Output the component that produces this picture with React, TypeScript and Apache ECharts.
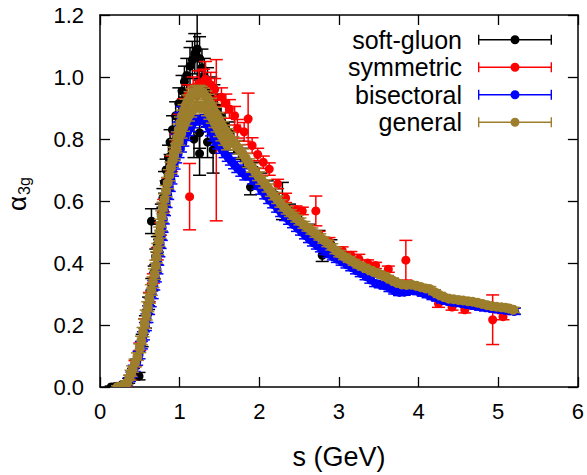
import React, { useEffect, useRef } from 'react';
import * as echarts from 'echarts';

// [s (GeV), alpha_3g, error]
type Pt = [number, number, number];

const seriesNames = ['soft-gluon', 'symmetric', 'bisectoral', 'general'];
const seriesColors = ['#000000', '#ff0000', '#0000ff', '#9c7e2c'];

const softGluon: Pt[] = [
  [0.14, 0.0, 0.003], [0.17, 0.0, 0.003], [0.2, 0.002, 0.004], [0.28, 0.008, 0.006], [0.36, 0.02, 0.008],
  [0.42, 0.05, 0.01], [0.49, 0.035, 0.012], [0.53, 0.15, 0.02], [0.57, 0.21, 0.02], [0.61, 0.27, 0.02],
  [0.65, 0.33, 0.02], [0.68, 0.37, 0.02], [0.7, 0.42, 0.025], [0.72, 0.46, 0.025], [0.646, 0.535, 0.04],
  [0.75, 0.5, 0.025], [0.77, 0.56, 0.03], [0.79, 0.61, 0.03], [0.81, 0.66, 0.035], [0.83, 0.7, 0.035],
  [0.86, 0.74, 0.04], [0.88, 0.79, 0.04], [0.91, 0.83, 0.045], [0.95, 0.875, 0.045], [0.99, 0.915, 0.05],
  [1.03, 0.955, 0.05], [1.06, 0.985, 0.05], [1.09, 1.005, 0.055], [1.13, 1.035, 0.06], [1.16, 1.055, 0.06],
  [1.19, 1.075, 0.065], [1.22, 1.09, 0.17], [1.25, 1.06, 0.07], [1.28, 1.03, 0.06], [1.31, 1.0, 0.06],
  [1.35, 0.975, 0.055], [1.39, 0.95, 0.05], [1.43, 0.925, 0.05], [1.47, 0.9, 0.045], [1.52, 0.87, 0.04],
  [1.57, 0.845, 0.04], [1.62, 0.82, 0.035], [1.68, 0.79, 0.035], [1.74, 0.765, 0.03], [1.8, 0.74, 0.03],
  [1.89, 0.645, 0.025], [1.95, 0.7, 0.025], [2.02, 0.67, 0.02], [2.1, 0.645, 0.02], [2.2, 0.62, 0.02],
  [2.29, 0.6, 0.06], [2.38, 0.57, 0.02], [2.5, 0.54, 0.02], [2.62, 0.51, 0.015], [2.75, 0.49, 0.015],
  [2.79, 0.425, 0.02], [2.9, 0.46, 0.015], [3.05, 0.42, 0.015], [3.2, 0.4, 0.012], [3.4, 0.37, 0.012],
  [3.6, 0.345, 0.01], [3.8, 0.322, 0.01], [3.95, 0.315, 0.01], [4.1, 0.305, 0.01], [4.3, 0.287, 0.01],
  [4.5, 0.275, 0.01], [4.7, 0.268, 0.01], [4.9, 0.258, 0.01], [5.1, 0.25, 0.01], [5.2, 0.245, 0.01],
  [1.18, 0.8, 0.06], [1.25, 0.753, 0.07], [1.25, 0.82, 0.05], [1.42, 0.765, 0.075], [1.35, 0.79, 0.05],
];

const symmetric: Pt[] = [
  [0.27, 0.0, 0.004], [0.32, 0.006, 0.005], [0.38, 0.03, 0.008], [0.44, 0.075, 0.01], [0.5, 0.13, 0.012],
  [0.56, 0.205, 0.015], [0.62, 0.29, 0.015], [0.67, 0.35, 0.015], [0.72, 0.43, 0.02], [0.76, 0.51, 0.02],
  [0.8, 0.585, 0.02], [0.85, 0.655, 0.02], [0.9, 0.72, 0.025], [0.95, 0.79, 0.025], [1.0, 0.85, 0.03],
  [1.05, 0.9, 0.03], [1.125, 0.614, 0.107], [1.1, 0.94, 0.035], [1.17, 0.965, 0.035], [1.24, 0.98, 0.04],
  [1.3, 0.985, 0.04], [1.325, 0.993, 0.057], [1.39, 0.975, 0.04], [1.44, 0.96, 0.035], [1.46, 0.796, 0.26],
  [1.525, 0.935, 0.03], [1.58, 0.915, 0.03], [1.625, 0.897, 0.03], [1.69, 0.875, 0.03], [1.725, 0.833, 0.03],
  [1.81, 0.823, 0.03], [1.86, 0.865, 0.083], [1.91, 0.779, 0.025], [1.98, 0.75, 0.02], [2.05, 0.725, 0.02],
  [2.125, 0.703, 0.02], [2.23, 0.655, 0.015], [2.33, 0.61, 0.015], [2.46, 0.572, 0.012], [2.54, 0.568, 0.012],
  [2.71, 0.568, 0.048], [2.75, 0.49, 0.012], [2.875, 0.47, 0.012], [3.04, 0.44, 0.012], [3.15, 0.425, 0.012],
  [3.25, 0.413, 0.015], [3.36, 0.4, 0.01], [3.46, 0.392, 0.01], [3.62, 0.38, 0.01], [3.84, 0.409, 0.064],
  [4.25, 0.269, 0.012], [4.42, 0.258, 0.01], [4.58, 0.249, 0.01], [4.93, 0.217, 0.08], [5.06, 0.227, 0.01],
];

const bisectoralRise: Pt[] = [
  [0.24, 0.0, 0.004], [0.29, 0.004, 0.004], [0.33, 0.01, 0.005], [0.37, 0.024, 0.006], [0.4, 0.04, 0.008],
  [0.43, 0.06, 0.01], [0.46, 0.08, 0.01], [0.49, 0.103, 0.012], [0.52, 0.135, 0.012], [0.545, 0.165, 0.013],
  [0.57, 0.195, 0.013], [0.59, 0.222, 0.014], [0.61, 0.248, 0.014], [0.63, 0.273, 0.014], [0.655, 0.3, 0.015],
  [0.675, 0.328, 0.015], [0.695, 0.354, 0.015], [0.715, 0.38, 0.015], [0.725, 0.408, 0.015], [0.74, 0.435, 0.015],
  [0.755, 0.462, 0.015], [0.77, 0.488, 0.015], [0.78, 0.514, 0.015], [0.795, 0.541, 0.015], [0.81, 0.568, 0.015],
  [0.83, 0.594, 0.015], [0.85, 0.62, 0.015], [0.87, 0.646, 0.015], [0.89, 0.67, 0.015], [0.91, 0.695, 0.015],
  [0.93, 0.718, 0.015], [0.97, 0.8, 0.015], [0.99, 0.84, 0.015], [1.01, 0.87, 0.015], [1.03, 0.89, 0.015],
];

const bisectoralInner: Pt[] = [
  [0.95, 0.735, 0.012], [0.98, 0.752, 0.012], [1.01, 0.77, 0.012], [1.04, 0.789, 0.012], [1.07, 0.807, 0.012],
  [1.1, 0.823, 0.012], [1.13, 0.836, 0.012], [1.16, 0.848, 0.012], [1.19, 0.857, 0.012], [1.22, 0.863, 0.012],
  [1.25, 0.866, 0.012], [1.28, 0.866, 0.012], [1.31, 0.86, 0.012], [1.34, 0.85, 0.012], [1.37, 0.836, 0.012],
  [1.4, 0.822, 0.012], [1.43, 0.806, 0.012], [1.46, 0.792, 0.012], [1.49, 0.78, 0.012], [1.53, 0.766, 0.012],
  [1.57, 0.752, 0.012], [1.61, 0.74, 0.012], [1.65, 0.728, 0.012], [1.69, 0.716, 0.012], [1.73, 0.704, 0.012],
  [1.78, 0.692, 0.012], [1.83, 0.68, 0.012],
];

const bisectoralTail: Pt[] = [
  [1.88, 0.68, 0.01], [1.93, 0.665, 0.01], [1.98, 0.648, 0.01], [2.03, 0.632, 0.01], [2.08, 0.617, 0.01],
  [2.13, 0.602, 0.01], [2.18, 0.588, 0.01], [2.23, 0.574, 0.01], [2.28, 0.56, 0.01], [2.33, 0.547, 0.01],
  [2.38, 0.535, 0.01], [2.43, 0.524, 0.01], [2.48, 0.512, 0.01], [2.53, 0.5, 0.01], [2.58, 0.488, 0.01],
  [2.63, 0.476, 0.01], [2.68, 0.465, 0.01], [2.73, 0.455, 0.01], [2.78, 0.446, 0.01], [2.83, 0.437, 0.01],
  [2.88, 0.428, 0.01], [2.93, 0.42, 0.01], [2.98, 0.412, 0.01], [3.04, 0.403, 0.01], [3.1, 0.394, 0.01],
  [3.16, 0.385, 0.01], [3.22, 0.375, 0.01], [3.28, 0.366, 0.01], [3.34, 0.356, 0.01], [3.4, 0.345, 0.01],
  [3.46, 0.334, 0.01], [3.52, 0.33, 0.01], [3.58, 0.326, 0.01], [3.64, 0.318, 0.01], [3.7, 0.31, 0.01],
  [3.76, 0.305, 0.01], [3.82, 0.306, 0.01], [3.88, 0.31, 0.01], [3.94, 0.312, 0.01], [4.0, 0.308, 0.01],
  [4.06, 0.303, 0.01], [4.12, 0.298, 0.01], [4.18, 0.292, 0.01], [4.24, 0.287, 0.01], [4.3, 0.281, 0.01],
  [4.36, 0.277, 0.01], [4.42, 0.274, 0.01], [4.48, 0.272, 0.01], [4.54, 0.27, 0.01], [4.6, 0.267, 0.01],
  [4.66, 0.264, 0.01], [4.72, 0.261, 0.01], [4.78, 0.258, 0.01], [4.84, 0.256, 0.01], [4.9, 0.254, 0.01],
  [4.96, 0.252, 0.01], [5.02, 0.25, 0.01], [5.08, 0.249, 0.01], [5.14, 0.246, 0.01], [5.2, 0.244, 0.01],
];

const generalMain: Pt[] = [
  [0.22, 0.0, 0.004], [0.26, 0.002, 0.004], [0.3, 0.006, 0.005], [0.34, 0.014, 0.006], [0.37, 0.03, 0.008],
  [0.39, 0.044, 0.01], [0.41, 0.058, 0.01], [0.44, 0.078, 0.012], [0.47, 0.098, 0.012], [0.5, 0.125, 0.014],
  [0.52, 0.15, 0.014], [0.54, 0.177, 0.015], [0.56, 0.204, 0.015], [0.58, 0.232, 0.016], [0.6, 0.259, 0.016],
  [0.62, 0.286, 0.016], [0.645, 0.313, 0.017], [0.665, 0.338, 0.017], [0.685, 0.364, 0.017], [0.7, 0.391, 0.018],
  [0.71, 0.418, 0.018], [0.725, 0.445, 0.018], [0.74, 0.472, 0.018], [0.75, 0.498, 0.018], [0.76, 0.523, 0.018],
  [0.775, 0.55, 0.018], [0.79, 0.578, 0.018], [0.81, 0.605, 0.018], [0.83, 0.632, 0.018], [0.85, 0.658, 0.018],
  [0.87, 0.683, 0.018], [0.89, 0.707, 0.018], [0.91, 0.73, 0.018], [0.93, 0.755, 0.018], [0.95, 0.78, 0.018],
  [0.97, 0.805, 0.018], [0.99, 0.83, 0.018], [1.01, 0.853, 0.018], [1.03, 0.875, 0.018], [1.055, 0.893, 0.018],
  [1.08, 0.91, 0.018], [1.105, 0.924, 0.018], [1.13, 0.935, 0.018], [1.155, 0.944, 0.018], [1.18, 0.95, 0.018],
  [1.21, 0.954, 0.018], [1.24, 0.955, 0.018], [1.27, 0.952, 0.018], [1.3, 0.946, 0.018], [1.33, 0.937, 0.018],
  [1.36, 0.926, 0.018], [1.39, 0.913, 0.018], [1.42, 0.898, 0.018], [1.45, 0.884, 0.018], [1.48, 0.869, 0.016],
  [1.51, 0.854, 0.016], [1.54, 0.84, 0.016], [1.57, 0.828, 0.016], [1.6, 0.817, 0.016], [1.63, 0.806, 0.016],
  [1.67, 0.792, 0.015], [1.71, 0.779, 0.015], [1.75, 0.766, 0.015], [1.79, 0.753, 0.015], [1.83, 0.738, 0.015],
  [1.87, 0.722, 0.014], [1.91, 0.707, 0.014], [1.95, 0.693, 0.014], [1.99, 0.68, 0.014], [2.03, 0.667, 0.013],
  [2.07, 0.655, 0.013], [2.11, 0.642, 0.013], [2.15, 0.628, 0.013], [2.19, 0.616, 0.012], [2.23, 0.604, 0.012],
  [2.27, 0.592, 0.012], [2.31, 0.58, 0.012], [2.35, 0.57, 0.012], [2.39, 0.561, 0.011], [2.43, 0.552, 0.011],
  [2.47, 0.543, 0.011], [2.51, 0.534, 0.011], [2.56, 0.523, 0.011], [2.61, 0.513, 0.01], [2.66, 0.503, 0.01],
  [2.71, 0.493, 0.01], [2.76, 0.484, 0.01], [2.81, 0.474, 0.01], [2.86, 0.463, 0.01], [2.91, 0.452, 0.01],
  [2.96, 0.44, 0.01], [3.01, 0.43, 0.01], [3.07, 0.42, 0.009], [3.13, 0.411, 0.009], [3.19, 0.402, 0.009],
  [3.25, 0.393, 0.009], [3.31, 0.386, 0.009], [3.37, 0.379, 0.009], [3.43, 0.372, 0.009], [3.49, 0.366, 0.009],
  [3.55, 0.36, 0.009], [3.61, 0.352, 0.008], [3.67, 0.344, 0.008], [3.73, 0.336, 0.008], [3.79, 0.331, 0.008],
  [3.85, 0.329, 0.008], [3.91, 0.33, 0.008], [3.97, 0.327, 0.008], [4.03, 0.322, 0.008], [4.09, 0.318, 0.008],
  [4.14, 0.316, 0.008], [4.2, 0.306, 0.008], [4.26, 0.297, 0.008], [4.32, 0.29, 0.008], [4.38, 0.285, 0.008],
  [4.44, 0.283, 0.008], [4.5, 0.281, 0.008], [4.56, 0.279, 0.008], [4.62, 0.277, 0.008], [4.68, 0.275, 0.008],
  [4.74, 0.272, 0.008], [4.8, 0.268, 0.008], [4.86, 0.264, 0.008], [4.92, 0.261, 0.008], [4.98, 0.259, 0.008],
  [5.04, 0.257, 0.008], [5.09, 0.256, 0.008], [5.14, 0.253, 0.008], [5.19, 0.249, 0.008],
];

const generalInner: Pt[] = [
  [0.93, 0.745, 0.015], [0.96, 0.77, 0.015], [0.99, 0.795, 0.015], [1.02, 0.818, 0.015], [1.05, 0.84, 0.015],
  [1.08, 0.858, 0.015], [1.11, 0.873, 0.015], [1.14, 0.886, 0.015], [1.17, 0.895, 0.015], [1.2, 0.902, 0.015],
  [1.23, 0.906, 0.015], [1.26, 0.907, 0.015], [1.29, 0.905, 0.015], [1.32, 0.899, 0.015], [1.35, 0.89, 0.015],
  [1.38, 0.879, 0.015], [1.41, 0.866, 0.015], [1.44, 0.852, 0.015], [1.47, 0.838, 0.015], [1.5, 0.823, 0.015],
  [1.53, 0.809, 0.015], [1.56, 0.795, 0.015], [1.6, 0.78, 0.015],
];

const seriesData: Pt[][] = [
  softGluon,
  symmetric,
  [...bisectoralRise, ...bisectoralInner, ...bisectoralTail],
  [...generalMain, ...generalInner],
];

const FONT = '"Liberation Sans", Arial, sans-serif';
const legendIcon =
  'path://M0,0h1.4v4.3h71.2v-4.3h1.4v10h-1.4v-4.3h-71.2v4.3h-1.4Z M32.5,5a4.5,4.5 0 1,1 9,0a4.5,4.5 0 1,1 -9,0Z';

const axisLineStyle = { color: '#000', width: 1.5 };

export default function App() {
  const ref = useRef<HTMLDivElement>(null);
  useEffect(() => {
    if (!ref.current) return;
    const chart = echarts.init(ref.current, undefined, { renderer: 'svg' });
    const renderItem = (params: any, api: any) => {
      const s = api.value(0);
      const a = api.value(1);
      const e = api.value(2);
      const p = api.coord([s, a]);
      const hi = api.coord([s, a + e]);
      const lo = api.coord([s, a - e]);
      const color = api.visual('color');
      const cw = 6.5;
      const ls = { stroke: color, lineWidth: 1.5 };
      return {
        type: 'group',
        children: [
          { type: 'line', shape: { x1: p[0], y1: hi[1], x2: p[0], y2: lo[1] }, style: ls },
          { type: 'line', shape: { x1: p[0] - cw, y1: hi[1], x2: p[0] + cw, y2: hi[1] }, style: ls },
          { type: 'line', shape: { x1: p[0] - cw, y1: lo[1], x2: p[0] + cw, y2: lo[1] }, style: ls },
          { type: 'circle', shape: { cx: p[0], cy: p[1], r: params.seriesIndex === 3 ? 5 : 4.5 }, style: { fill: color } },
        ],
      };
    };
    const xBase = {
      type: 'value' as const,
      min: 0,
      max: 6,
      interval: 1,
      splitLine: { show: false },
      axisLine: { show: true, onZero: false, lineStyle: axisLineStyle },
      axisTick: { show: true, inside: true, length: 10, lineStyle: { color: '#000', width: 1.3 } },
    };
    const yBase = {
      type: 'value' as const,
      min: 0,
      max: 1.2,
      interval: 0.2,
      splitLine: { show: false },
      axisLine: { show: true, onZero: false, lineStyle: axisLineStyle },
      axisTick: { show: true, inside: true, length: 10, lineStyle: { color: '#000', width: 1.3 } },
    };
    chart.setOption({
      animation: false,
      textStyle: { fontFamily: FONT },
      grid: { left: 100, right: 7, top: 15, bottom: 84, containLabel: false },
      xAxis: [
        {
          ...xBase,
          position: 'bottom',
          axisLabel: { fontSize: 22, color: '#000', margin: 13, fontFamily: FONT },
          name: 's (GeV)',
          nameLocation: 'middle',
          nameGap: 56,
          nameTextStyle: { fontSize: 27, color: '#000', fontFamily: FONT },
        },
        { ...xBase, position: 'top', axisLabel: { show: false } },
      ],
      yAxis: [
        {
          ...yBase,
          position: 'left',
          axisLabel: {
            fontSize: 22,
            color: '#000',
            margin: 16,
            fontFamily: FONT,
            formatter: (v: number) => v.toFixed(1),
          },
        },
        { ...yBase, position: 'right', axisLabel: { show: false } },
      ],
      legend: {
        orient: 'vertical',
        right: 35,
        top: 26,
        align: 'right',
        padding: 0,
        itemWidth: 74,
        itemHeight: 10,
        itemGap: 0,
        selectedMode: false,
        textStyle: { fontSize: 25, color: '#000', fontFamily: FONT, padding: [0, 11, 0, 0], lineHeight: 27.5 },
        data: seriesNames.map((n, i) => ({ name: n, icon: legendIcon, itemStyle: { color: seriesColors[i] } })),
      },
      graphic: [
        {
          type: 'group',
          x: 17,
          y: 211,
          rotation: Math.PI / 2,
          children: [
            { type: 'text', x: 0, y: 0, style: { text: 'α', font: `26px ${FONT}`, fill: '#000', align: 'left', verticalAlign: 'middle' } },
            { type: 'text', x: 16, y: 7, style: { text: '3g', font: `16px ${FONT}`, fill: '#000', align: 'left', verticalAlign: 'middle' } },
          ],
        },
      ],
      series: seriesNames.map((n, i) => ({
        name: n,
        type: 'custom',
        xAxisIndex: 0,
        yAxisIndex: 0,
        clip: true,
        itemStyle: { color: seriesColors[i] },
        encode: { x: 0, y: 1 },
        renderItem,
        data: seriesData[i],
        z: 2 + i,
      })),
    });
    return () => chart.dispose();
  }, []);
  return <div ref={ref} style={{ position: 'absolute', left: 0, top: 0, width: 587, height: 475 }} />;
}
